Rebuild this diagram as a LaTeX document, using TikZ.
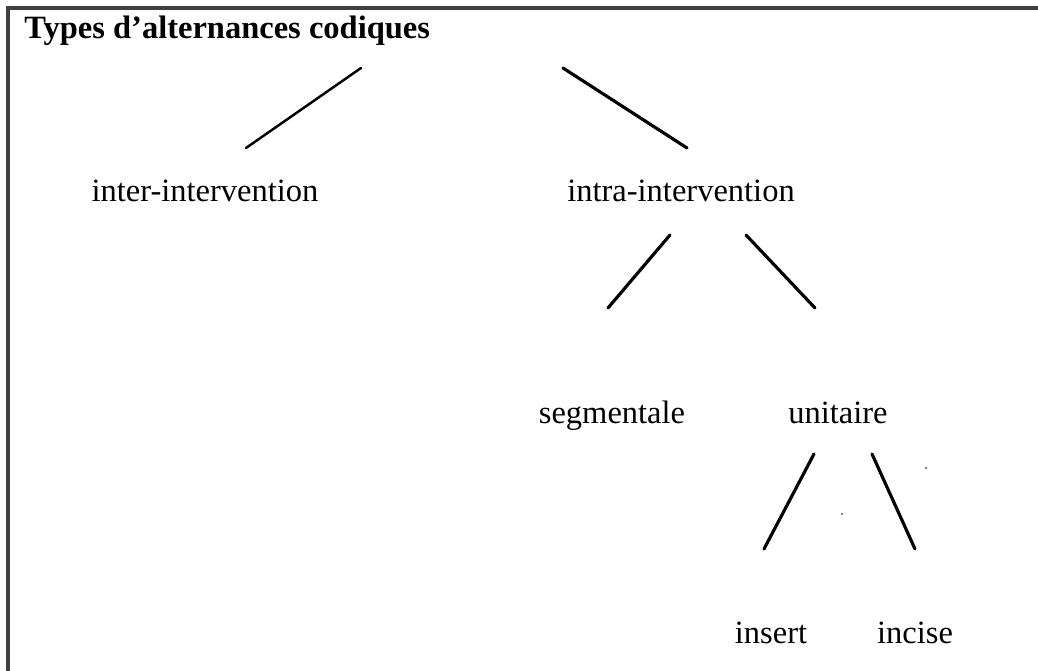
\documentclass[tikz,border=0pt]{standalone}
\usepackage{fontspec}
\setmainfont{Liberation Serif}
\usepackage{tikz}

\begin{document}
\begin{tikzpicture}[x=0.02cm,y=-0.02cm,
		lbl/.style={anchor=base,inner sep=0pt,font=\fontsize{18.5}{21}\selectfont},
		branch/.style={line width=1.8pt,line cap=round}]
		\useasboundingbox (0,0) rectangle (1038,671);

		% frame
		\draw [line width=2.2pt,black!75] (1038,8) -- (8,8) -- (8,671);

		% labels
		\node [lbl,anchor=base west,font=\fontsize{18.5}{21}\selectfont\bfseries] (title) at (24,39) {Types d'alternances codiques};
		\node [lbl] (inter) at (205,202) {inter-intervention};
		\node [lbl] (intra) at (681,202) {intra-intervention};
		\node [lbl] (segm) at (612,424) {segmentale};
		\node [lbl] (unit) at (838,424) {unitaire};
		\node [lbl] (insert) at (771,644) {insert};
		\node [lbl] (incise) at (915,644) {incise};

		% branch ends
		\coordinate (title-l) at (361,68);
		\coordinate (inter-t) at (246,148);
		\coordinate (title-r) at (563,68);
		\coordinate (intra-t) at (687,148);
		\coordinate (intra-l) at (670,235);
		\coordinate (segm-t) at (608,308);
		\coordinate (intra-r) at (746,235);
		\coordinate (unit-t) at (815,308);
		\coordinate (unit-l) at (814,454);
		\coordinate (insert-t) at (764,549);
		\coordinate (unit-r) at (872,454);
		\coordinate (incise-t) at (915,549);

		% branches
		\draw [branch,line width=1.4pt] (title-l) -- (inter-t);
		\draw [branch] (title-r) -- (intra-t);
		\draw [branch] (intra-l) -- (segm-t);
		\draw [branch] (intra-r) -- (unit-t);
		\draw [branch] (unit-l) -- (insert-t);
		\draw [branch] (unit-r) -- (incise-t);

		% specks
		\fill (926,468) circle [radius=0.8];
		\fill (842,514) circle [radius=0.8];

\end{tikzpicture}
\end{document}
